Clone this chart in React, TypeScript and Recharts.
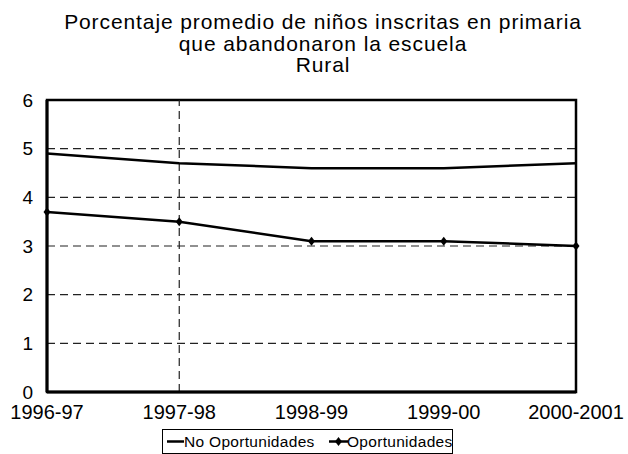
import {
  CartesianGrid,
  Line,
  LineChart,
  ReferenceArea,
  ReferenceLine,
  XAxis,
  YAxis,
} from "recharts";

// School years on the horizontal axis.
const PERIODS = ["1996-97", "1997-98", "1998-99", "1999-00", "2000-2001"];
// Average % of enrolled primary pupils who dropped out (rural).
const NO_OPORTUNIDADES = [4.9, 4.7, 4.6, 4.6, 4.7];
const OPORTUNIDADES = [3.7, 3.5, 3.1, 3.1, 3.0];
const Y_TICKS = [0, 1, 2, 3, 4, 5, 6];
const TITLE_LINES = [
  "Porcentaje promedio de niños inscritas en primaria",
  "que abandonaron la escuela",
  "Rural",
];

const FONT = '"Liberation Sans", Arial, sans-serif';

const data = PERIODS.map((period, i) => ({
  period,
  noOp: NO_OPORTUNIDADES[i],
  op: OPORTUNIDADES[i],
}));

// Small filled diamond used as the marker of the "Oportunidades" series.
function Diamond(props: any) {
  const { cx, cy } = props;
  if (cx == null || cy == null) return null;
  return (
    <path
      d={`M${cx},${cy - 4.5} L${cx + 3.5},${cy} L${cx},${cy + 4.5} L${cx - 3.5},${cy} Z`}
      fill="#000"
    />
  );
}

export default function App() {
  return (
    <div
      style={{
        position: "absolute",
        left: 0,
        top: 0,
        width: 628,
        height: 454,
        background: "#fff",
        fontFamily: FONT,
      }}
    >
      <LineChart
        width={628}
        height={454}
        data={data}
        margin={{ top: 100, right: 52, bottom: 32, left: 7 }}
      >
        <CartesianGrid
          vertical={false}
          stroke="#222"
          strokeDasharray="8 5"
          strokeWidth={1.2}
        />
        <ReferenceLine
          x="1997-98"
          stroke="#222"
          strokeDasharray="8 5"
          strokeWidth={1.2}
        />
        <XAxis
          dataKey="period"
          tickLine={false}
          tickSize={0}
          tickMargin={13}
          axisLine={{ stroke: "#000", strokeWidth: 3 }}
          tick={{ fill: "#000", fontSize: 20, fontFamily: FONT }}
          interval={0}
          height={30}
        />
        <YAxis
          domain={[0, 6]}
          ticks={Y_TICKS}
          tickLine={false}
          tickSize={0}
          tickMargin={14}
          axisLine={{ stroke: "#000", strokeWidth: 3 }}
          tick={{ fill: "#000", fontSize: 19, fontFamily: FONT }}
          width={40}
        />
        <Line
          type="linear"
          dataKey="noOp"
          name="No Oportunidades"
          stroke="#000"
          strokeWidth={2.5}
          dot={false}
          isAnimationActive={false}
        />
        <Line
          type="linear"
          dataKey="op"
          name="Oportunidades"
          stroke="#000"
          strokeWidth={2.5}
          dot={<Diamond />}
          activeDot={false}
          isAnimationActive={false}
        />
        <ReferenceArea
          x1="1996-97"
          x2="2000-2001"
          y1={0}
          y2={6}
          fill="none"
          fillOpacity={0}
          stroke="#000"
          strokeWidth={2.5}
        />
      </LineChart>

      <svg
        width={628}
        height={454}
        style={{ position: "absolute", left: 0, top: 0, pointerEvents: "none" }}
      >
        {TITLE_LINES.map((line, i) => (
          <text
            key={line}
            x={323}
            y={29 + i * 21.5}
            textAnchor="middle"
            fontSize={21}
            letterSpacing={0.9}
            fontFamily={FONT}
            fill="#000"
          >
            {line}
          </text>
        ))}
      </svg>

      <div
        style={{
          position: "absolute",
          left: 162,
          top: 429,
          width: 291,
          height: 25,
          boxSizing: "border-box",
          border: "1px solid #000",
          fontSize: 15.5,
          letterSpacing: 0.3,
          color: "#000",
          whiteSpace: "nowrap",
        }}
      >
        <svg
          width={17}
          height={23}
          style={{ position: "absolute", left: 4, top: 0 }}
        >
          <line x1={0} y1={11.5} x2={17} y2={11.5} stroke="#000" strokeWidth={2.5} />
        </svg>
        <span style={{ position: "absolute", left: 21, top: 3 }}>
          No Oportunidades
        </span>
        <svg
          width={19}
          height={23}
          style={{ position: "absolute", left: 166, top: 0 }}
        >
          <line x1={0} y1={11.5} x2={19} y2={11.5} stroke="#000" strokeWidth={2.5} />
          <path d="M9.5,7 L13,11.5 L9.5,16 L6,11.5 Z" fill="#000" />
        </svg>
        <span style={{ position: "absolute", left: 184, top: 3 }}>
          Oportunidades
        </span>
      </div>
    </div>
  );
}
